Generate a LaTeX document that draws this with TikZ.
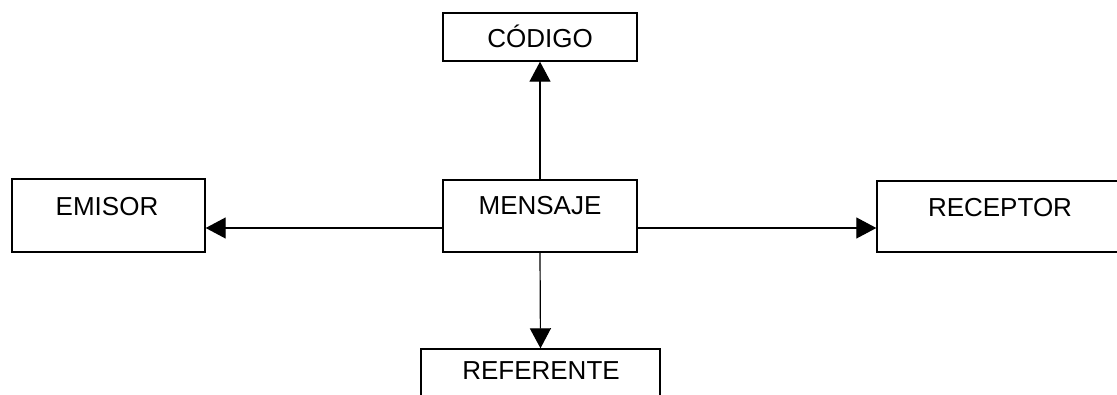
\documentclass[tikz,border=0pt]{standalone}
\usepackage{fontspec}
\setmainfont{Liberation Sans}
\usetikzlibrary{arrows.meta}
\begin{document}
\begin{tikzpicture}[x=1pt,y=-1pt,
  box/.style={draw,line width=1.4pt,rectangle,inner sep=0pt},
  lbl/.style={anchor=base,inner sep=0pt,font=\fontsize{26}{30}\selectfont},
  conn/.style={line width=1.2pt,-{Triangle[length=20pt,width=21pt]}}]
\useasboundingbox (0,0) rectangle (1117,395);
\clip (0,0) rectangle (1117,395);
\fill[white] (0,0) rectangle (1117,395);
\node[box,minimum width=194pt,minimum height=48pt] (codigo) at (540,37) {};
\node[box,minimum width=193pt,minimum height=73pt] (emisor) at (108.5,215.5) {};
\node[box,minimum width=194pt,minimum height=72pt] (mensaje) at (540,216) {};
\node[box,minimum width=250pt,minimum height=71pt] (receptor) at (1002,216.5) {};
\node[box,minimum width=239pt,minimum height=64pt] (referente) at (540.5,381) {};
\node[lbl] (tcodigo) at (540,48) {CÓDIGO};
\node[lbl] (temisor) at (107,215.5) {EMISOR};
\node[lbl] (tmensaje) at (540,215) {MENSAJE};
\node[lbl] (treceptor) at (1000,216.5) {RECEPTOR};
\node[lbl] (treferente) at (541,379.5) {REFERENTE};
\coordinate (ml) at ([yshift=-12pt]mensaje.west);
\coordinate (mr) at ([yshift=-12pt]mensaje.east);
\draw[conn] (mensaje.north) -- (codigo.south);
\draw[conn] (ml) -- (emisor.east |- ml);
\draw[conn] (mr) -- (receptor.west |- mr);
\draw[conn] (mensaje.south) -- (referente.north);
\end{tikzpicture}
\end{document}
